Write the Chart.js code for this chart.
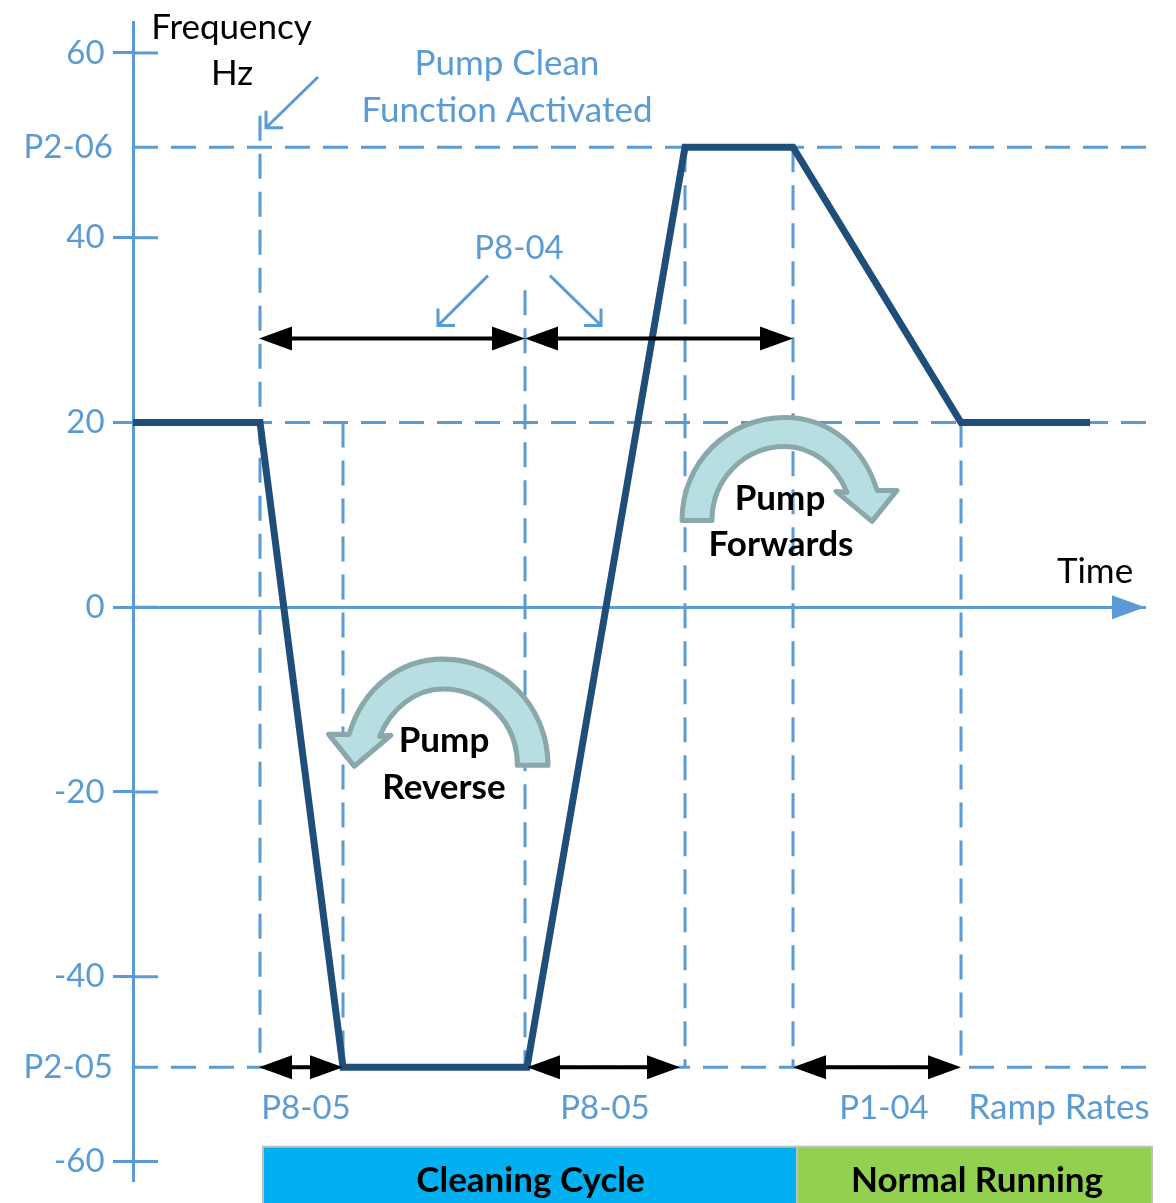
<!DOCTYPE html>
<html>
<head>
<meta charset="utf-8">
<style>
  html, body { margin: 0; padding: 0; background: #fff; }
  canvas { display: block; }
</style>
<script src="https://cdn.jsdelivr.net/npm/chart.js@4/dist/chart.umd.js"></script>
</head>
<body>
<canvas id="myChart" width="1176" height="1203"></canvas>
<script>
// frequency profile, time in arbitrary units from the axis
const rampTimes = [0, 127, 210, 394, 552, 660, 828, 957];
const rampFreqs = [20, 20, -49.8, -49.8, 49.8, 49.8, 20, 20];

const yTickValues = [60, 49.8, 40, 20, 0, -20, -40, -49.8, -60];
const yTickLabels = ['60', 'P2-06', '40', '20', '0', '-20', '-40', 'P2-05', '-60'];
const stubTicks = [60, 40, 20, 0, -20, -40, -60];

const guideFreqs = [49.8, 20, -49.8];
const stopTimes = [127, 210, 392, 552, 660, 828];
const stopTops = [53.2, 20, 34.3, 49.8, 49.8, 20];

const blue = '#5B9BD5';
const navy = '#1F4E79';
const font = 'Lato, "Open Sans", sans-serif';

// t1, t2, freq
const spans = [
  [126, 392, 29.1],
  [392, 660, 29.1],
  [126, 210, -49.8],
  [394, 547, -49.8],
  [660, 828, -49.8],
];

// from t, from f, to t, to f
const pointers = [
  [185, 57.4, 133, 51.9],
  [355, 35.9, 305, 30.5],
  [417, 35.9, 468, 30.5],
];

// text, t, f, size
const blueLabels = [
  ['Pump Clean', 374, 58.8, 35],
  ['Function Activated', 374, 53.8, 35],
  ['P8-04', 386, 38.8, 33],
  ['P8-05', 173, -54.2, 33],
  ['P8-05', 472, -54.2, 33],
  ['P1-04', 751, -54.2, 33],
  ['Ramp Rates', 926, -54.2, 35],
];
const blackLabels = [
  ['Frequency', 98.5, 62.7],
  ['Hz', 99, 57.7],
  ['Time', 962, 3.8],
];
const pumpLabels = [
  ['Pump', 647, 11.8],
  ['Forwards', 648, 6.8],
  ['Pump', 311, -14.4],
  ['Reverse', 311, -19.5],
];
// text, t1, t2, text t, colour
const phases = [
  ['Cleaning Cycle', 130, 664, 397.5, '#00B0F0'],
  ['Normal Running', 664, 1019, 844, '#92D050'],
];
const phaseTop = -58.4;
const phaseBottom = -64.8;

// direction arrows: t, f, mirrored
const turnArrows = [
  [549, 9.4, false],
  [415, -17.1, true],
];

function guideSet(points) {
  return {
    data: points, showLine: true, pointRadius: 0, clip: false,
    borderColor: blue, borderWidth: 3, borderDash: [25, 13],
  };
}

const datasets = [];
// first dataset is painted last, the ramp has to sit on the guides
datasets.push({
  data: rampTimes.map((t, i) => ({ x: t, y: rampFreqs[i] })),
  showLine: true, pointRadius: 0, clip: false,
  borderColor: navy, borderWidth: 7, borderJoinStyle: 'miter',
});
guideFreqs.forEach(f => {
  datasets.push(guideSet([{ x: 0, y: f }, { x: 1017, y: f }]));
});
stopTimes.forEach((t, i) => {
  datasets.push(guideSet([{ x: t, y: stopTops[i] }, { x: t, y: -49.8 }]));
});
stubTicks.forEach(f => {
  datasets.push({
    data: [{ x: 0, y: f }, { x: 25, y: f }], showLine: true, pointRadius: 0,
    borderColor: blue, borderWidth: 3,
  });
});

function drawHead(ctx, x, y, dir, len, half, color) {
  ctx.fillStyle = color;
  ctx.beginPath();
  ctx.moveTo(x, y);
  ctx.lineTo(x - dir * len, y - half);
  ctx.lineTo(x - dir * len, y + half);
  ctx.closePath();
  ctx.fill();
}

function drawTurn(ctx, x, y, mirror) {
  ctx.save();
  ctx.translate(x, y);
  ctx.scale(mirror ? -1.02 : 1, mirror ? 1.03 : 1);
  ctx.beginPath();
  ctx.moveTo(0, 0);
  ctx.bezierCurveTo(0, -58, 46, -103, 103, -103);
  ctx.bezierCurveTo(146, -103, 182, -74, 195, -30);
  ctx.lineTo(215, -30);
  ctx.lineTo(190, 1);
  ctx.lineTo(154, -29);
  ctx.lineTo(165, -28);
  ctx.bezierCurveTo(154, -55, 130, -74, 103, -74);
  ctx.bezierCurveTo(63, -74, 30, -42, 30, 0);
  ctx.closePath();
  ctx.fillStyle = '#B7DEE1';
  ctx.strokeStyle = '#8AA8AB';
  ctx.lineWidth = 5;
  ctx.lineJoin = 'round';
  ctx.fill();
  ctx.stroke();
  ctx.restore();
}

const diagramParts = {
  id: 'diagramParts',
  afterDatasetsDraw(chart) {
    const ctx = chart.ctx;
    const X = v => chart.scales.x.getPixelForValue(v);
    const Y = v => chart.scales.y.getPixelForValue(v);
    ctx.save();

    // time axis arrow head
    drawHead(ctx, chart.chartArea.right, Y(0), 1, 33, 12, blue);

    // span arrows
    spans.forEach(s => {
      const a = X(s[0]), b = X(s[1]), y = Y(s[2]);
      ctx.strokeStyle = '#000';
      ctx.lineWidth = 4;
      ctx.beginPath();
      ctx.moveTo(a + 10, y);
      ctx.lineTo(b - 10, y);
      ctx.stroke();
      drawHead(ctx, a, y, -1, 33, 12, '#000');
      drawHead(ctx, b, y, 1, 33, 12, '#000');
    });

    // thin open arrows
    pointers.forEach(p => {
      const x1 = X(p[0]), y1 = Y(p[1]), x2 = X(p[2]), y2 = Y(p[3]);
      const dir = x1 > x2 ? 1 : -1;
      ctx.strokeStyle = blue;
      ctx.lineWidth = 3;
      ctx.beginPath();
      ctx.moveTo(x1, y1);
      ctx.lineTo(x2, y2);
      ctx.moveTo(x2 + dir * 17, y2);
      ctx.lineTo(x2, y2);
      ctx.lineTo(x2, y2 - 17);
      ctx.stroke();
    });

    turnArrows.forEach(a => drawTurn(ctx, X(a[0]), Y(a[1]), a[2]));

    ctx.textAlign = 'center';
    ctx.textBaseline = 'middle';

    // phase bars
    phases.forEach(p => {
      const x = X(p[1]), w = X(p[2]) - x, y = Y(phaseTop), h = Y(phaseBottom) - y;
      ctx.fillStyle = p[4];
      ctx.strokeStyle = '#BFBFBF';
      ctx.lineWidth = 2;
      ctx.fillRect(x, y, w, h);
      ctx.strokeRect(x, y, w, h);
      ctx.fillStyle = '#000';
      ctx.font = 'bold 35px ' + font;
      ctx.fillText(p[0], X(p[3]), Y(-62.1));
    });

    ctx.fillStyle = blue;
    blueLabels.forEach(l => {
      ctx.font = l[3] + 'px ' + font;
      ctx.fillText(l[0], X(l[1]), Y(l[2]));
    });
    ctx.fillStyle = '#000';
    ctx.font = '35px ' + font;
    blackLabels.forEach(l => ctx.fillText(l[0], X(l[1]), Y(l[2])));
    ctx.font = 'bold 35px ' + font;
    pumpLabels.forEach(l => ctx.fillText(l[0], X(l[1]), Y(l[2])));
    ctx.restore();
  }
};

new Chart(document.getElementById('myChart').getContext('2d'), {
  type: 'scatter',
  data: { datasets: datasets },
  plugins: [diagramParts],
  options: {
    responsive: false,
    animation: false,
    layout: { padding: { top: 22, bottom: 23, right: 31, left: 0 } },
    plugins: { legend: { display: false }, tooltip: { enabled: false } },
    scales: {
      x: {
        type: 'linear', min: 0, max: 1012, position: { y: 0 },
        grid: { display: false },
        ticks: { display: false },
        border: { color: blue, width: 3 },
      },
      y: {
        type: 'linear', min: -62, max: 63.35, position: 'left',
        afterBuildTicks(scale) {
          scale.ticks = yTickValues.map(v => ({ value: v }));
        },
        afterFit(scale) { scale.width = 133; },
        grid: {
          drawOnChartArea: false, tickLength: 20, lineWidth: 3,
          tickColor: c => (c.tick && stubTicks.includes(c.tick.value) ? blue : 'transparent'),
        },
        border: { color: blue, width: 3 },
        ticks: {
          padding: 0, color: blue, autoSkip: false, font: { family: font, size: 33 },
          callback(v) {
            const label = yTickLabels[yTickValues.indexOf(v)];
            return label.startsWith('P') ? label : label + ' ';
          },
        },
      },
    },
  },
});
</script>
</body>
</html>
